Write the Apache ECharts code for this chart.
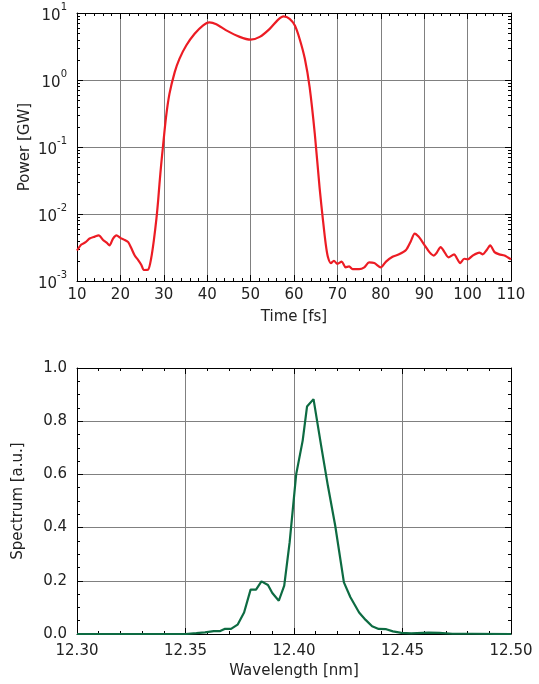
<!DOCTYPE html>
<html>
<head>
<meta charset="utf-8">
<script src="https://cdn.jsdelivr.net/npm/echarts@6.0.0/dist/echarts.min.js"></script>
<style>
	html,body{margin:0;padding:0;background:#fff;}
	#main{width:539px;height:684px;}
</style>
</head>
<body>
<div id="main"></div>
<script>
// top panel: power vs time (log)
var timeFs=[10,11,12,12.9,14.1,15,16,16.9,17.5,18.3,19.1,20,21,21.8,22.5,23.3,24.1,24.8,25.4,26.4,27.1,27.7,28.3,28.7,29.0,29.4,29.8,30.5,31.3,32.5,33.6,35.2,37.1,39,40.5,42.1,44.4,47.5,50,52.1,54.4,56.3,57.6,59,60.2,61.3,62.5,63.6,64.8,65.9,66.7,67.3,67.8,68.5,69.2,70,71,71.9,72.7,73.5,75,76.2,77.3,78.5,80,81.2,82.7,84.2,85.8,86.9,87.8,88.7,90,91.2,92.2,92.8,93.8,94.6,95.6,96.9,97.5,98.3,99.2,100,101.2,102.7,103.5,104.4,105.2,106.2,107.3,108.5,110];
var powerGW=[2.85e-3,3.5e-3,3.8e-3,4.3e-3,4.6e-3,4.8e-3,4.1e-3,3.7e-3,3.4e-3,4.3e-3,4.8e-3,4.4e-3,4.1e-3,3.8e-3,3.1e-3,2.4e-3,2.05e-3,1.75e-3,1.46e-3,1.48e-3,2.2e-3,4.0e-3,8.5e-3,0.016,0.028,0.055,0.1,0.275,0.62,1.3,2.07,3.3,4.9,6.5,7.25,6.8,5.5,4.4,4.0,4.4,5.8,7.9,8.9,8.2,6.5,4.1,2.07,0.78,0.155,0.0245,7.8e-3,3.6e-3,2.3e-3,1.85e-3,2.0e-3,1.8e-3,1.95e-3,1.6e-3,1.65e-3,1.5e-3,1.5e-3,1.6e-3,1.9e-3,1.85e-3,1.6e-3,1.95e-3,2.3e-3,2.5e-3,2.9e-3,3.9e-3,5.1e-3,4.6e-3,3.5e-3,2.7e-3,2.4e-3,2.6e-3,3.2e-3,2.75e-3,2.25e-3,2.5e-3,2.2e-3,1.85e-3,2.15e-3,2.1e-3,2.4e-3,2.65e-3,2.5e-3,2.9e-3,3.4e-3,2.7e-3,2.5e-3,2.4e-3,2.1e-3];
// bottom panel: spectrum
var wavelengthNm=[12.30,12.35,12.355,12.359,12.363,12.366,12.368,12.371,12.374,12.377,12.380,12.3825,12.385,12.388,12.390,12.393,12.3955,12.398,12.401,12.404,12.406,12.409,12.4125,12.4156,12.419,12.423,12.426,12.430,12.433,12.436,12.439,12.4425,12.4456,12.4495,12.454,12.462,12.467,12.473,12.482,12.50];
var spectrumAU=[0,0,0.003,0.006,0.011,0.011,0.019,0.019,0.035,0.081,0.167,0.167,0.198,0.184,0.154,0.125,0.182,0.345,0.60,0.727,0.855,0.883,0.708,0.558,0.407,0.194,0.138,0.081,0.053,0.029,0.019,0.018,0.010,0.004,0.002,0.005,0.004,0.001,0.001,0];
// minor ticks of the log axis (2..9 in each decade)
var logMinorTicks=[];
for(var e=-3;e<1;e++){
	for(var k=2;k<10;k++){
		logMinorTicks.push([10,k*Math.pow(10,e)]);
	}
}

var font='DejaVu Sans';
var txt='#222';
var gridColor='#808080';

function pairs(xs,ys){
	var out=[];
	for(var i=0;i<xs.length;i++){out.push([xs[i],ys[i]]);}
	return out;
}
//坐标框: 黑线, 刻度朝内
function boxAxis(base,extra){
	var a={
		nameMoveOverlap:false,
		axisLine:{show:true,onZero:false,lineStyle:{color:'#000',width:1}},
		axisTick:{show:true,inside:true,length:6,lineStyle:{color:'#000'}},
		axisLabel:{show:false},
		splitLine:{show:false}
	};
	for(var p in base){a[p]=base[p];}
	for(var q in extra){a[q]=extra[q];}
	return a;
}
function minor(n){
	return {show:true,splitNumber:n,length:3,lineStyle:{color:'#000'}};
}

var myChart=echarts.init(document.getElementById('main'));
var option={
	animation:false,
	backgroundColor:'#fff',
	grid:[
		{left:77,top:13,width:434,height:268},
		{left:77,top:368,width:434,height:266}
	],
	xAxis:[
		boxAxis({type:'value',gridIndex:0,min:10,max:110,interval:10},{
			name:'Time [fs]',nameLocation:'middle',nameGap:29,
			nameTextStyle:{fontFamily:font,fontSize:15,color:txt},
			axisLabel:{show:true,margin:7,fontFamily:font,fontSize:15,color:txt},
			minorTick:minor(5),
			splitLine:{show:true,lineStyle:{color:gridColor,width:1}}
		}),
		boxAxis({type:'value',gridIndex:0,min:10,max:110,interval:10,position:'top'},{
			minorTick:minor(5)
		}),
		boxAxis({type:'value',gridIndex:1,min:12.3,max:12.5,interval:0.05},{
			name:'Wavelength [nm]',nameLocation:'middle',nameGap:30,
			nameTextStyle:{fontFamily:font,fontSize:15,color:txt},
			axisLabel:{show:true,margin:10,fontFamily:font,fontSize:15,color:txt,
				formatter:function(v){return v.toFixed(2);}},
			minorTick:minor(5),
			splitLine:{show:true,lineStyle:{color:gridColor,width:1}}
		}),
		boxAxis({type:'value',gridIndex:1,min:12.3,max:12.5,interval:0.05,position:'top'},{
			minorTick:minor(5)
		})
	],
	yAxis:[
		boxAxis({type:'log',logBase:10,gridIndex:0,min:0.001,max:10},{
			name:'Power [GW]',nameLocation:'middle',nameGap:44,nameRotate:90,
			nameTextStyle:{fontFamily:font,fontSize:15,color:txt},
			axisLabel:{show:true,margin:10,fontFamily:font,color:txt,
				formatter:function(v){
					var ex=Math.round(Math.log(v)/Math.LN10);
					return '{b|10}{s|'+ex+'}';
				},
				rich:{
					b:{fontFamily:font,fontSize:15,color:txt,lineHeight:22,verticalAlign:'bottom'},
					s:{fontFamily:font,fontSize:10,color:txt,lineHeight:22,verticalAlign:'top'}
				}
			},
			splitLine:{show:true,lineStyle:{color:gridColor,width:1}}
		}),
		boxAxis({type:'log',logBase:10,gridIndex:0,min:0.001,max:10,position:'right'},{}),
		boxAxis({type:'value',gridIndex:1,min:0,max:1,interval:0.2},{
			name:'Spectrum [a.u.]',nameLocation:'middle',nameGap:51,nameRotate:90,
			nameTextStyle:{fontFamily:font,fontSize:15,color:txt},
			axisLabel:{show:true,margin:10,fontFamily:font,fontSize:15,color:txt,
				formatter:function(v){return v.toFixed(1);}},
			minorTick:minor(4),
			splitLine:{show:true,lineStyle:{color:gridColor,width:1}}
		}),
		boxAxis({type:'value',gridIndex:1,min:0,max:1,interval:0.2,position:'right'},{
			minorTick:minor(4)
		})
	],
	series:[
		{
			type:'custom',xAxisIndex:0,yAxisIndex:0,silent:true,clip:false,z:5,
			data:logMinorTicks,
			renderItem:function(params,api){
				var v=api.value(1);
				var l=api.coord([10,v]);
				var r=api.coord([110,v]);
				var y=Math.round(l[1])+0.5;
				return {type:'group',children:[
					{type:'line',shape:{x1:l[0],y1:y,x2:l[0]+3,y2:y},style:{stroke:'#000',lineWidth:1}},
					{type:'line',shape:{x1:r[0]-3,y1:y,x2:r[0],y2:y},style:{stroke:'#000',lineWidth:1}}
				]};
			}
		},
		{
			type:'line',xAxisIndex:0,yAxisIndex:0,
			data:pairs(timeFs,powerGW),
			showSymbol:false,smooth:0.25,z:10,
			lineStyle:{color:'#ec1c24',width:2.2}
		},
		{
			type:'line',xAxisIndex:2,yAxisIndex:2,
			data:pairs(wavelengthNm,spectrumAU),
			showSymbol:false,z:10,
			lineStyle:{color:'#0d6b42',width:2.2}
		}
	]
};
myChart.setOption(option);
</script>
</body>
</html>
